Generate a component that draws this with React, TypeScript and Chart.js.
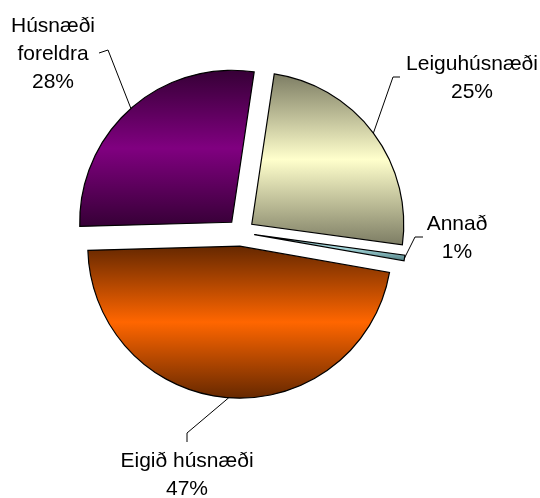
import React, { useEffect, useRef } from "react";
import { Chart, registerables } from "chart.js";

Chart.register(...registerables);

// ---- data ----
const categories = ["Leiguhúsnæði", "Annað", "Eigið húsnæði", "Húsnæði foreldra"];
const shares = [24.8, 0.6, 46.8, 27.8];
const labelLines = [["Leiguhúsnæði"], ["Annað"], ["Eigið húsnæði"], ["Húsnæði", "foreldra"]];

// ---- styles ----
const midColors = ["#FFFFCC", "#A9DCE0", "#FF6600", "#800080"];
const edgeColors = ["#7D7D64", "#4E7C80", "#662800", "#360036"];
const EXPLODE = 13.7;
const FONT = "21px 'Liberation Sans', Arial, sans-serif";
const LINE_H = 28;
// label layout: text centre x, first baseline y, leader elbow points
const labelLayout = [
  { x: 472, y: 70, path: [[393, 77], [400, 77]] },
  { x: 457, y: 230, path: [[415, 237], [423, 237]] },
  { x: 187, y: 467, path: [[187, 433], [187, 442]] },
  { x: 53, y: 32, path: [[108, 50], [99, 53]] },
];

const explodedPie = {
  id: "explodedPie",
  afterDatasetsDraw(chart: any) {
    const ctx: CanvasRenderingContext2D = chart.ctx;
    const meta = chart.getDatasetMeta(0);
    const data = chart.data.datasets[0].data as number[];
    const total = data.reduce((a, b) => a + b, 0);
    ctx.save();
    meta.data.forEach((el: any, i: number) => {
      const { x, y, startAngle, endAngle, outerRadius } = el;
      const mid = (startAngle + endAngle) / 2;
      const cx = x + Math.cos(mid) * EXPLODE;
      const cy = y + Math.sin(mid) * EXPLODE;
      // vertical extent of the slice
      const ys = [cy, cy + Math.sin(startAngle) * outerRadius, cy + Math.sin(endAngle) * outerRadius];
      for (const a of [-Math.PI / 2, Math.PI / 2, (3 * Math.PI) / 2, (5 * Math.PI) / 2]) {
        if (a > startAngle && a < endAngle) ys.push(cy + Math.sin(a) * outerRadius);
      }
      const minY = Math.min(...ys);
      const maxY = Math.max(...ys);
      const g = ctx.createLinearGradient(0, minY, 0, maxY);
      g.addColorStop(0, edgeColors[i]);
      g.addColorStop(0.5, midColors[i]);
      g.addColorStop(1, edgeColors[i]);
      ctx.beginPath();
      ctx.moveTo(cx, cy);
      ctx.arc(cx, cy, outerRadius, startAngle, endAngle);
      ctx.closePath();
      ctx.fillStyle = g;
      ctx.fill();
      ctx.lineWidth = 1.2;
      ctx.lineJoin = "miter";
      ctx.strokeStyle = "#000";
      ctx.stroke();

      // leader line
      const lay = labelLayout[i];
      ctx.beginPath();
      ctx.moveTo(cx + Math.cos(mid) * outerRadius, cy + Math.sin(mid) * outerRadius);
      lay.path.forEach((p) => ctx.lineTo(p[0], p[1]));
      ctx.lineWidth = 1;
      ctx.strokeStyle = "#000";
      ctx.stroke();

      // label text
      const pct = Math.round((data[i] / total) * 100) + "%";
      const lines = [...labelLines[i], pct];
      ctx.fillStyle = "#000";
      ctx.font = FONT;
      ctx.textAlign = "center";
      ctx.textBaseline = "alphabetic";
      lines.forEach((t, k) => ctx.fillText(t, lay.x, lay.y + k * LINE_H));
    });
    ctx.restore();
  },
};

export default function App() {
  const ref = useRef<HTMLCanvasElement>(null);
  useEffect(() => {
    if (!ref.current) return;
    const chart = new Chart(ref.current, {
      type: "pie",
      data: {
        labels: categories,
        datasets: [
          {
            data: shares,
            backgroundColor: "rgba(0,0,0,0)",
            borderWidth: 0,
          },
        ],
      },
      options: {
        responsive: false,
        animation: false,
        rotation: 8.5,
        layout: { padding: { left: 88.8, right: 147.2, top: 80.5, bottom: 113.5 } },
        plugins: { legend: { display: false }, tooltip: { enabled: false } },
      },
      plugins: [explodedPie],
    });
    return () => chart.destroy();
  }, []);
  return (
    <div style={{ position: "fixed", left: 0, top: 0, width: 540, height: 498, background: "#fff" }}>
      <canvas ref={ref} width={540} height={498} />
    </div>
  );
}
